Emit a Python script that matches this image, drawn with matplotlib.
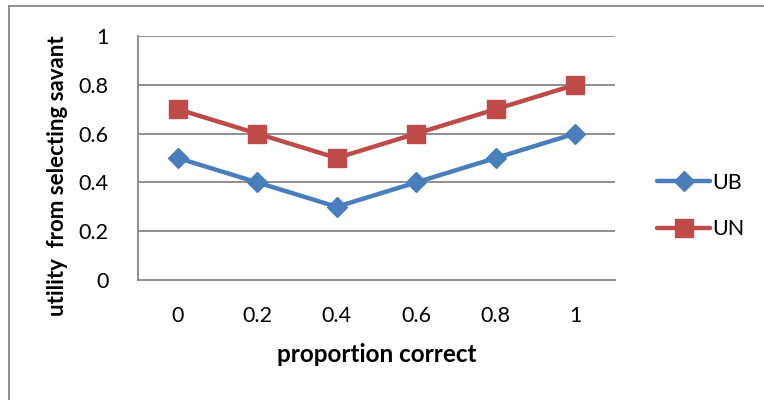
import matplotlib
matplotlib.use("Agg")
import matplotlib.pyplot as plt
from matplotlib.lines import Line2D

categories = ["0", "0.2", "0.4", "0.6", "0.8", "1"]
ub = [0.5, 0.4, 0.3, 0.4, 0.5, 0.6]
un = [0.7, 0.6, 0.5, 0.6, 0.7, 0.8]
yticks = [0, 0.2, 0.4, 0.6, 0.8, 1]

blue = "#4A7EBB"
red = "#BE4B48"
grid = "#868686"

plt.rcParams["font.family"] = ["Lato", "DejaVu Sans"]

W, H = 764, 400
fig = plt.figure(figsize=(W / 100, H / 100), dpi=100)

# plot area in pixel coordinates
left, right, top, bottom = 138, 615, 36, 280
ax = fig.add_axes([left / W, 1 - bottom / H, (right - left) / W, (bottom - top) / H])

x = list(range(len(categories)))
ax.plot(x, ub, color=blue, lw=3.2, marker="D", ms=10.5, mec=blue, mfc=blue,
        solid_capstyle="round", label="UB", zorder=3)
ax.plot(x, un, color=red, lw=3.2, marker="s", ms=13, mec=red, mfc=red,
        solid_capstyle="round", label="UN", zorder=3)

ax.set_xlim(-0.5, len(categories) - 0.5)
ax.set_ylim(0, 1)
ax.set_yticks(yticks)
ax.set_yticklabels([f"{t:g}" for t in yticks])
ax.set_xticks(x)
ax.set_xticklabels(categories)
ax.tick_params(axis="both", length=0, labelsize=15.5, colors="black")
ax.tick_params(axis="y", pad=21)
ax.tick_params(axis="x", pad=19)

for t in yticks[1:]:
    ax.axhline(t, color=grid, lw=1.3, zorder=1)
for side in ["top", "right"]:
    ax.spines[side].set_visible(False)
for side in ["left", "bottom"]:
    ax.spines[side].set_color(grid)
    ax.spines[side].set_linewidth(1.3)

ax.set_xlabel("proportion correct", fontsize=17.5, fontweight="bold", labelpad=12)
fig.text(58 / W, 1 - 176 / H, "utility  from selecting savant", rotation=90,
         fontsize=16, fontweight="bold", ha="center", va="center")

handles = [
    Line2D([], [], color=blue, lw=3.2, marker="D", ms=10.5, solid_capstyle="round"),
    Line2D([], [], color=red, lw=3.2, marker="s", ms=13, solid_capstyle="round"),
]
fig.legend(handles, ["UB", "UN"], loc="center left",
           bbox_to_anchor=(648 / W, 1 - 206 / H), frameon=False,
           fontsize=15.5, handlelength=2.5, handletextpad=0.1,
           labelspacing=1.25, borderaxespad=0)

# chart frame
fig.add_artist(Line2D([9 / W, 9 / W], [0, 1 - 6 / H], color=grid, lw=1.3,
                      transform=fig.transFigure))
fig.add_artist(Line2D([9 / W, 1], [1 - 6 / H, 1 - 6 / H], color=grid, lw=1.3,
                      transform=fig.transFigure))

fig.savefig("out.png", dpi=100, facecolor="white")
